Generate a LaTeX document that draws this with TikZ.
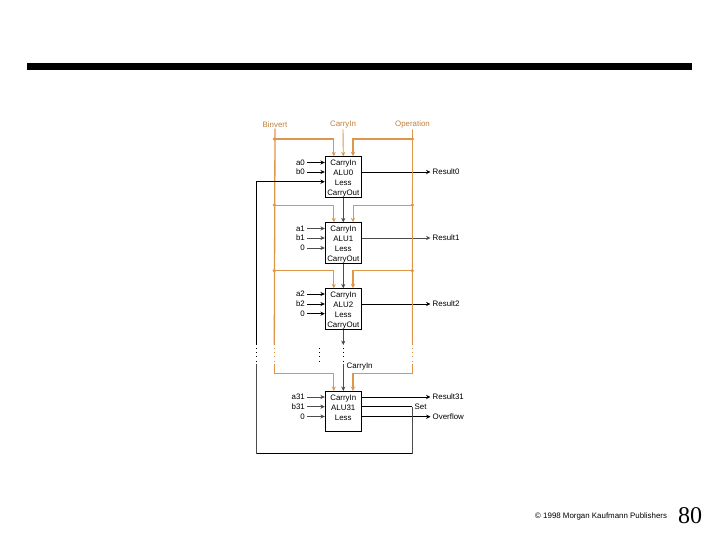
\documentclass[tikz,border=0pt]{standalone}
\usepackage{fontspec}
\setmainfont{Liberation Sans}
\newfontfamily\pagefont{Liberation Serif}
\usetikzlibrary{arrows.meta}
\definecolor{ctrlorange}{RGB}{222,150,72}
\begin{document}
\begin{tikzpicture}[x=1pt,y=-1pt,>={Stealth[length=4.4pt,width=4.2pt]},
  font=\fontsize{7.9}{9.8}\selectfont]
\tikzset{
  alubox/.style={draw=black,line width=1pt,minimum width=36pt,minimum height=40.5pt,
    inner sep=0pt,align=center,text height=36.6pt,text depth=0pt},
  inlabel/.style={anchor=east,inner sep=0pt},
  outlabel/.style={anchor=west,inner sep=0pt},
  toplabel/.style={text=ctrlorange!85!black,inner sep=0pt},
  wire/.style={black,line width=0.9pt},
  thinwire/.style={black!70,line width=0.7pt},
  ctrl/.style={ctrlorange,line width=1.3pt},
  thinctrl/.style={ctrlorange,line width=0.9pt},
  gapdots/.style={line width=0.7pt,dash pattern=on 0.8pt off 3.4pt},
  junction/.style={circle,fill=ctrlorange,inner sep=0pt,minimum size=3.6pt}
}
\useasboundingbox (0,0) rectangle (720,540);

% title rule
\fill[black] (27,63) rectangle (692,70);

% control labels
\node[toplabel] (binvert) at (275,124.5) {Binvert};
\node[toplabel] (carrytop) at (343,124.5) {CarryIn};
\node[toplabel] (operation) at (412.5,124.5) {Operation};

% ALU slices
\node[alubox] (alu0) at (343.3,177) {CarryIn\\ALU0\\Less\\CarryOut};
\node[alubox] (alu1) at (343.3,243) {CarryIn\\ALU1\\Less\\CarryOut};
\node[alubox] (alu2) at (343.3,309) {CarryIn\\ALU2\\Less\\CarryOut};
\node[alubox] (alu31) at (343.3,411.7) {CarryIn\\ALU31\\Less\\\strut};

% inputs
\node[inlabel] (a0) at (305,162.5) {a0};
\node[inlabel] (b0) at (305,172) {b0};
\coordinate (less0) at (305,181.7);
\node[inlabel] (a1) at (305,228.5) {a1};
\node[inlabel] (b1) at (305,238) {b1};
\node[inlabel] (less1) at (305,248) {0};
\node[inlabel] (a2) at (305,294) {a2};
\node[inlabel] (b2) at (305,304) {b2};
\node[inlabel] (less2) at (305,313.7) {0};
\node[inlabel] (a31) at (305,397) {a31};
\node[inlabel] (b31) at (305,406.7) {b31};
\node[inlabel] (less31) at (305,416.5) {0};
\draw[wire,->] ([xshift=2pt]a0.east) -- (a0 -| alu0.west);
\draw[wire,->] ([xshift=2pt]b0.east) -- (b0 -| alu0.west);
\draw[thinwire,->] ([xshift=2pt]a1.east) -- (a1 -| alu1.west);
\draw[thinwire,->] ([xshift=2pt]b1.east) -- (b1 -| alu1.west);
\draw[thinwire,->] ([xshift=2pt]less1.east) -- (less1 -| alu1.west);
\draw[wire,->] ([xshift=2pt]a2.east) -- (a2 -| alu2.west);
\draw[wire,->] ([xshift=2pt]b2.east) -- (b2 -| alu2.west);
\draw[wire,->] ([xshift=2pt]less2.east) -- (less2 -| alu2.west);
\draw[thinwire,->] ([xshift=2pt]a31.east) -- (a31 -| alu31.west);
\draw[thinwire,->] ([xshift=2pt]b31.east) -- (b31 -| alu31.west);
\draw[thinwire,->] ([xshift=2pt]less31.east) -- (less31 -| alu31.west);

% outputs
\node[outlabel] (result0) at (432.5,172) {Result0};
\node[outlabel] (result1) at (432.5,238) {Result1};
\node[outlabel] (result2) at (432.5,304) {Result2};
\node[outlabel] (result31) at (432.5,397) {Result31};
\node[outlabel] (overflow) at (432.5,416.7) {Overflow};
\node[anchor=west,inner sep=0pt] (set) at (414.5,406.5) {Set};
\draw[wire,->] (result0 -| alu0.east) -- ([xshift=-2pt]result0.west);
\draw[thinwire,->] (result1 -| alu1.east) -- ([xshift=-2pt]result1.west);
\draw[wire,->] (result2 -| alu2.east) -- ([xshift=-2pt]result2.west);
\draw[wire,->] (result31 -| alu31.east) -- ([xshift=-2pt]result31.west);
\draw[wire,->] (overflow -| alu31.east) -- ([xshift=-2pt]overflow.west);

% carry chain
\draw[thinwire,->] (alu0.south) -- (alu1.north);
\draw[thinwire,->] (alu1.south) -- (alu2.north);
\coordinate (carryend) at (343.3,345);
\coordinate (carrystart) at (343.3,364);
\draw[thinwire,->] (alu2.south) -- (carryend);
\draw[gapdots] (343.3,348) -- (343.3,362);
\draw[gapdots] (319.3,348) -- (319.3,362);
\draw[thinwire,->] (carrystart) -- (alu31.north);
\node[anchor=west,inner sep=0pt] (carrylabel) at (346.5,367) {CarryIn};

% Binvert and Operation buses
\coordinate (binv0) at (274.3,139);
\coordinate (binv1) at (274.3,205);
\coordinate (binv2) at (274.3,270.7);
\coordinate (binvgap) at (274.3,345);
\coordinate (binvlow) at (274.3,364);
\coordinate (binv31) at (274.3,373.7);
\coordinate (oper0) at (412.3,139);
\coordinate (oper1) at (412.3,205);
\coordinate (oper2) at (412.3,270.7);
\coordinate (opergap) at (412.3,345);
\coordinate (operlow) at (412.3,364);
\coordinate (oper31) at (412.3,373.7);
\draw[ctrl] ([yshift=-1pt]binvert.south) -- (binvgap);
\draw[ctrl] (binvlow) -- (binv31);
\draw[gapdots,ctrlorange] (binvgap) ++(0,3) -- (274.3,362);
\draw[thinctrl] ([yshift=-1pt]operation.south) -- (opergap);
\draw[thinctrl] (operlow) -- (oper31);
\draw[gapdots,ctrlorange] (opergap) ++(0,3) -- (412.3,362);
\draw[thinctrl,->] ([yshift=-1pt]carrytop.south) -- (alu0.north);
\draw[ctrl,->] (binv0) -| ([xshift=-9.5pt]alu0.north);
\draw[ctrl,->] (oper0) -| ([xshift=9.7pt]alu0.north);
\draw[thinctrl,->] (binv1) -| ([xshift=-9.5pt]alu1.north);
\draw[thinctrl,->] (oper1) -| ([xshift=9.7pt]alu1.north);
\draw[ctrl,->] (binv2) -| ([xshift=-9.5pt]alu2.north);
\draw[ctrl,->] (oper2) -| ([xshift=9.7pt]alu2.north);
\draw[ctrl,->] (binv31) -| ([xshift=-9.5pt]alu31.north);
\draw[ctrl,->] (oper31) -| ([xshift=9.7pt]alu31.north);
\foreach \j in {binv0,binv1,binv2,oper0,oper1,oper2}
  \node[junction] at (\j) {};

% Less feedback
\coordinate (lessgap) at (256.7,345);
\coordinate (lesslow) at (256.7,364);
\coordinate (lesscorner) at (256.7,453.7);
\coordinate (setcorner) at (412.3,453.7);
\draw[wire,->] (lessgap) |- (alu0.west |- less0);
\draw[gapdots] (lessgap) ++(0,3) -- (256.7,362);
\draw[thinwire] (lesslow) -- (lesscorner);
\draw[wire] (lesscorner) -- (setcorner);
\draw[thinwire] (setcorner) -- (412.3,406.7);
\draw[wire] (412.3,406.7) -- (alu31.east |- 412.3,406.7);

% footer
\node[anchor=west,inner sep=0pt,font=\fontsize{7.9}{9}\selectfont] (publisher) at (535,516.5)
  {© 1998 Morgan Kaufmann Publishers};
\node[anchor=center,inner sep=0pt,font=\pagefont\fontsize{24}{26}\selectfont] (pagenum) at (690,515.5) {80};
\end{tikzpicture}
\end{document}
